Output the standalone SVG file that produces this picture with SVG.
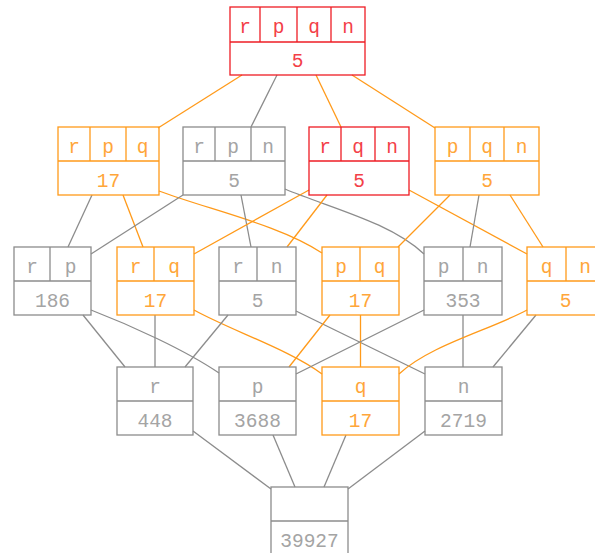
<svg xmlns="http://www.w3.org/2000/svg" width="595" height="553" viewBox="0 0 595 553">
<style>
rect,line,path{fill:none;stroke-width:1.3}
text{font-family:"Liberation Mono","Courier New",monospace;font-size:19.5px;text-anchor:middle}
.g rect,.g line{stroke:#8c8c8c}
.g text{fill:#a4a4a4}
.o rect,.o line{stroke:#ff9a1a}
.o text{fill:#ffa63a}
.r rect,.r line{stroke:#ee1c24}
.r text{fill:#f34048}
.eg{stroke:#8c8c8c}
.eo{stroke:#ff9a1a}
</style>
<rect width="595" height="553" fill="#fff"/>
<g id="edges">
<line class="eo" x1="242" y1="75" x2="158" y2="128"/>
<line class="eg" x1="277" y1="75" x2="251" y2="127"/>
<line class="eo" x1="316" y1="75" x2="341" y2="127"/>
<line class="eo" x1="352" y1="75" x2="435" y2="128"/>
<line class="eg" x1="92" y1="195" x2="68" y2="247"/>
<line class="eo" x1="123" y1="195" x2="143" y2="247"/>
<path class="eo" d="M159,191 C210,210 280,225 322,253"/>
<line class="eg" x1="183" y1="195" x2="91" y2="254"/>
<line class="eg" x1="241" y1="195" x2="251" y2="247"/>
<path class="eg" d="M285,189 C330,208 390,222 424,254"/>
<line class="eo" x1="309" y1="190" x2="194" y2="254"/>
<line class="eo" x1="327" y1="195" x2="287" y2="247"/>
<line class="eo" x1="409" y1="190" x2="527" y2="254"/>
<line class="eo" x1="450" y1="195" x2="398" y2="247"/>
<line class="eg" x1="479" y1="195" x2="470" y2="247"/>
<line class="eo" x1="510" y1="195" x2="543" y2="247"/>
<line class="eg" x1="83" y1="315" x2="125" y2="367"/>
<path class="eg" d="M91,310 C130,325 185,350 219,373"/>
<line class="eg" x1="155" y1="315" x2="155" y2="367"/>
<path class="eo" d="M194,310 C230,330 290,350 322,374"/>
<line class="eg" x1="228" y1="315" x2="185" y2="367"/>
<line class="eg" x1="296" y1="311" x2="425" y2="374"/>
<line class="eo" x1="330" y1="315" x2="289" y2="367"/>
<line class="eo" x1="360.5" y1="315" x2="360.5" y2="367"/>
<line class="eg" x1="424" y1="310" x2="296" y2="374"/>
<line class="eg" x1="463" y1="315" x2="463" y2="367"/>
<path class="eo" d="M527,310 C490,330 430,345 399,374"/>
<line class="eg" x1="536" y1="315" x2="493" y2="367"/>
<line class="eg" x1="193" y1="431" x2="271" y2="489"/>
<line class="eg" x1="273" y1="435" x2="295" y2="487"/>
<line class="eg" x1="346" y1="435" x2="324" y2="487"/>
<line class="eg" x1="425" y1="431" x2="348" y2="489"/>
</g>
<g id="n_rpqn" class="r">
<rect x="230" y="7" width="135" height="68"/>
<line x1="230" y1="42" x2="365" y2="42"/>
<line x1="260" y1="7" x2="260" y2="42"/><line x1="297" y1="7" x2="297" y2="42"/><line x1="331" y1="7" x2="331" y2="42"/>
<text x="245" y="33">r</text><text x="278.5" y="33">p</text><text x="314" y="33">q</text><text x="348" y="33">n</text>
<text x="297.5" y="67">5</text>
</g>
<g id="n_rpq" class="o">
<rect x="58" y="127" width="101" height="68"/>
<line x1="58" y1="161" x2="159" y2="161"/>
<line x1="90" y1="127" x2="90" y2="161"/><line x1="126" y1="127" x2="126" y2="161"/>
<text x="74" y="153">r</text><text x="108" y="153">p</text><text x="142.5" y="153">q</text>
<text x="108.5" y="187">17</text>
</g>
<g id="n_rpn" class="g">
<rect x="183" y="127" width="102" height="68"/>
<line x1="183" y1="161" x2="285" y2="161"/>
<line x1="215" y1="127" x2="215" y2="161"/><line x1="251" y1="127" x2="251" y2="161"/>
<text x="199" y="153">r</text><text x="233" y="153">p</text><text x="268" y="153">n</text>
<text x="234" y="187">5</text>
</g>
<g id="n_rqn" class="r">
<rect x="309" y="127" width="100" height="68"/>
<line x1="309" y1="161" x2="409" y2="161"/>
<line x1="341" y1="127" x2="341" y2="161"/><line x1="375" y1="127" x2="375" y2="161"/>
<text x="325" y="153">r</text><text x="358" y="153">q</text><text x="392" y="153">n</text>
<text x="359" y="187">5</text>
</g>
<g id="n_pqn" class="o">
<rect x="435" y="127" width="104" height="68"/>
<line x1="435" y1="161" x2="539" y2="161"/>
<line x1="470" y1="127" x2="470" y2="161"/><line x1="504" y1="127" x2="504" y2="161"/>
<text x="452.5" y="153">p</text><text x="487" y="153">q</text><text x="521.5" y="153">n</text>
<text x="487" y="187">5</text>
</g>
<g id="n_rp" class="g">
<rect x="14" y="247" width="77" height="68"/>
<line x1="14" y1="281" x2="91" y2="281"/><line x1="50" y1="247" x2="50" y2="281"/>
<text x="32" y="273">r</text><text x="70.5" y="273">p</text>
<text x="52.5" y="307">186</text>
</g>
<g id="n_rq" class="o">
<rect x="117" y="247" width="77" height="68"/>
<line x1="117" y1="281" x2="194" y2="281"/><line x1="154" y1="247" x2="154" y2="281"/>
<text x="135.5" y="273">r</text><text x="174" y="273">q</text>
<text x="155.5" y="307">17</text>
</g>
<g id="n_rn" class="g">
<rect x="219" y="247" width="77" height="68"/>
<line x1="219" y1="281" x2="296" y2="281"/><line x1="257" y1="247" x2="257" y2="281"/>
<text x="238" y="273">r</text><text x="276.5" y="273">n</text>
<text x="257.5" y="307">5</text>
</g>
<g id="n_pq" class="o">
<rect x="322" y="247" width="77" height="68"/>
<line x1="322" y1="281" x2="399" y2="281"/><line x1="360" y1="247" x2="360" y2="281"/>
<text x="341" y="273">p</text><text x="379.5" y="273">q</text>
<text x="360.5" y="307">17</text>
</g>
<g id="n_pn" class="g">
<rect x="424" y="247" width="78" height="68"/>
<line x1="424" y1="281" x2="502" y2="281"/><line x1="463" y1="247" x2="463" y2="281"/>
<text x="443.5" y="273">p</text><text x="482.5" y="273">n</text>
<text x="463" y="307">353</text>
</g>
<g id="n_qn" class="o">
<rect x="527" y="247" width="77" height="68"/>
<line x1="527" y1="281" x2="604" y2="281"/><line x1="566" y1="247" x2="566" y2="281"/>
<text x="546.5" y="273">q</text><text x="585" y="273">n</text>
<text x="565.5" y="307">5</text>
</g>
<g id="n_r" class="g">
<rect x="117" y="367" width="76" height="68"/>
<line x1="117" y1="401" x2="193" y2="401"/>
<text x="155" y="393">r</text>
<text x="155" y="427">448</text>
</g>
<g id="n_p" class="g">
<rect x="219" y="367" width="77" height="68"/>
<line x1="219" y1="401" x2="296" y2="401"/>
<text x="257.5" y="393">p</text>
<text x="257.5" y="427">3688</text>
</g>
<g id="n_q" class="o">
<rect x="322" y="367" width="77" height="68"/>
<line x1="322" y1="401" x2="399" y2="401"/>
<text x="360.5" y="393">q</text>
<text x="360.5" y="427">17</text>
</g>
<g id="n_n" class="g">
<rect x="425" y="367" width="77" height="68"/>
<line x1="425" y1="401" x2="502" y2="401"/>
<text x="463.5" y="393">n</text>
<text x="463.5" y="427">2719</text>
</g>
<g id="n_empty" class="g">
<rect x="271" y="487" width="77" height="68"/>
<line x1="271" y1="521" x2="348" y2="521"/>
<text x="309.5" y="547">39927</text>
</g>
</svg>
